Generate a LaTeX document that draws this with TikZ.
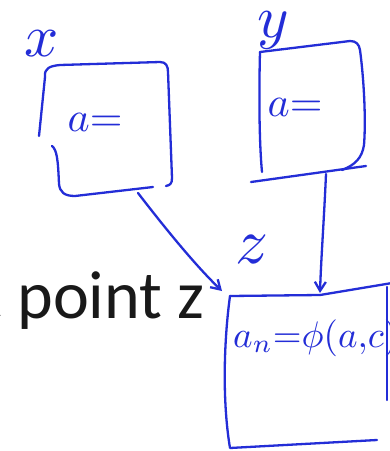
\documentclass[tikz,border=0pt]{standalone}
\usepackage{fontspec}
\newfontfamily\slidefont{Carlito}
\usetikzlibrary{arrows.meta}
\definecolor{penblue}{RGB}{35,45,215}
\definecolor{slidetext}{RGB}{25,25,25}
\tikzset{
  pen/.style={draw=penblue, line width=2.3pt, line cap=round, line join=round},
  penarrow/.style={pen, -{Straight Barb[length=9pt,width=11pt,line width=2.3pt]}},
  hand/.style={text=penblue, inner sep=0pt},
  slide/.style={text=slidetext, inner sep=0pt, font=\slidefont\fontsize{68}{68}\selectfont}
}
\begin{document}
\begin{tikzpicture}[x=1pt,y=-1pt]
\useasboundingbox (0,0) rectangle (390,451);
\clip (0,0) rectangle (390,451);
\fill[white] (0,0) rectangle (390,451);

% slide text
\node[slide, anchor=base east] (pointz) at (205,318) {at point z};
\node[slide, anchor=base west] (nextline) at (6,500) {i};

% box x
\coordinate (xtl) at (45,77);
\coordinate (xbot) at (138,193);
\draw[pen] (xtl) .. controls (44,68) and (50,66) .. (60,65) -- (160,62)
  .. controls (166,62) and (168,66) .. (168,72) -- (172,178)
  .. controls (172,184) and (170,185) .. (166,186);
\draw[pen] (xtl) -- (39,136);
\draw[pen] (52,146) .. controls (57,150) and (58,160) .. (59,184)
  .. controls (60,192) and (64,196) .. (75,196) -- (153,187);
\node[hand] (xlabel) at (42,44) {\scalebox{6}{$x$}};
\node[hand] (xa) at (95,122) {\scalebox{4.2}{$a{=}$}};

% box y
\coordinate (ytl) at (260,52);
\coordinate (ybot) at (326,174);
\draw[pen] (ytl) -- (350,41) .. controls (356,41) and (359,44) .. (360,50)
  .. controls (364,80) and (366,120) .. (364,145)
  .. controls (362,158) and (355,165) .. (342,170);
\draw[pen] (ytl) .. controls (259,90) and (259,140) .. (262,172);
\draw[pen] (251,182) -- (366,166);
\node[hand] (ylabel) at (273,30) {\scalebox{6}{$y$}};
\node[hand] (ya) at (295,107) {\scalebox{4.2}{$a{=}$}};

% box z
\coordinate (ztl) at (230,296);
\coordinate (zin1) at (222,291);
\coordinate (zin2) at (320,293);
\draw[pen] (ztl) -- (320,295) -- (392,283);
\draw[pen] (ztl) .. controls (224,340) and (222,400) .. (230,448) -- (377,440);
\draw[pen] (387,287) -- (387,400);
\node[hand] (zlabel) at (252,250) {\scalebox{6.5}{$z$}};
\node[hand, anchor=base west] (za) at (233,347) {\scalebox{3.7}{$a_n{=}\phi(a{,}c)$}};

% arrows
\draw[penarrow] (xbot) .. controls (165,228) and (195,265) .. (zin1);
\draw[penarrow] (ybot) .. controls (324,220) and (321,260) .. (zin2);
\end{tikzpicture}
\end{document}
